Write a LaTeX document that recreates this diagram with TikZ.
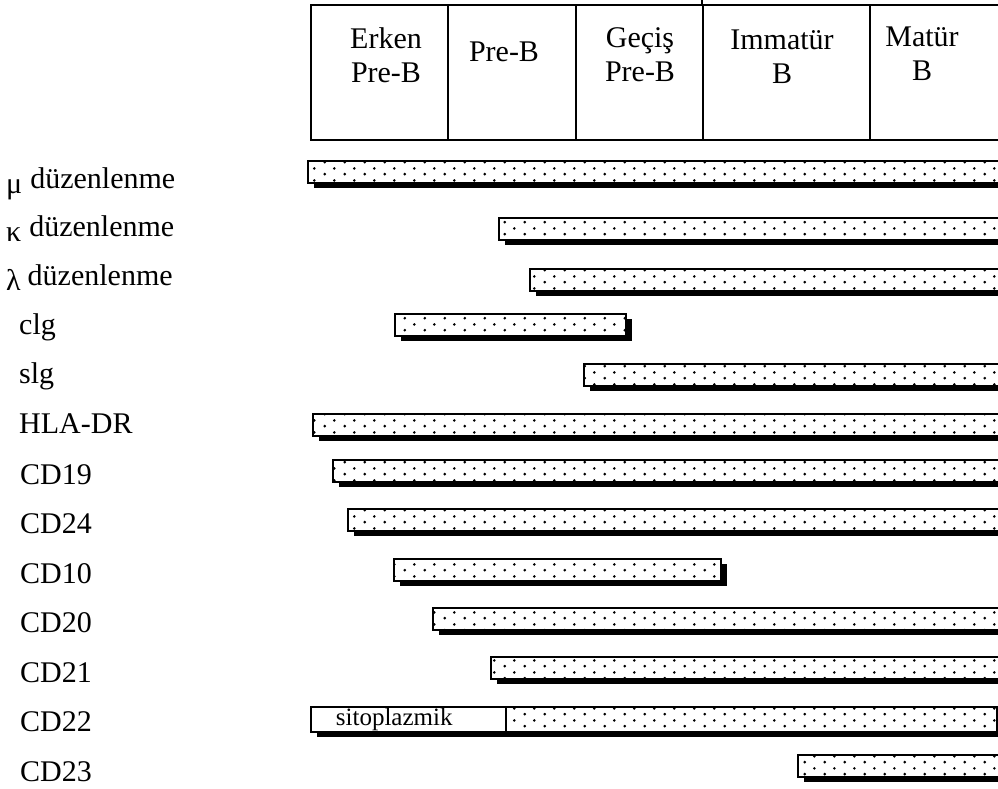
\documentclass[tikz,border=0pt]{standalone}
\usepackage{fontspec}
\setmainfont{Liberation Serif}
\usetikzlibrary{positioning, patterns, shadows}

\pgfdeclarepatternformonly{bar dots}{\pgfpointorigin}{\pgfpoint{20pt}{12pt}}{\pgfpoint{20pt}{12pt}}{%
  \pgfpathcircle{\pgfpoint{5pt}{3pt}}{1.5pt}%
  \pgfpathcircle{\pgfpoint{15pt}{9pt}}{1.5pt}%
  \pgfusepath{fill}}

\begin{document}
\begin{tikzpicture}
		[
		x=1pt, y=-1pt,
		font=\fontsize{30}{34}\selectfont,
		cell/.style ={rectangle, draw=black, line width=2pt, minimum height=135pt, inner sep=0pt},
		head/.style ={anchor=north, align=center, inner sep=0pt},
		lbl/.style ={anchor=base west, inner sep=0pt},
		plainbar/.style ={rectangle, draw=black, line width=1.8pt, fill=white, minimum height=22pt, inner sep=0pt, anchor=north west, drop shadow={shadow xshift=6pt, shadow yshift=-5pt, fill=black, opacity=1}},
		bar/.style ={plainbar, postaction={pattern=bar dots}}
		]
		\useasboundingbox (0,0) rectangle (998,789);
		\clip (0,0) rectangle (998,789);
		% stages
		\node[anchor=north west, minimum width=137pt] (c1) at (310,4) [cell] {};
		\node[right=-2pt of c1, minimum width=128pt] (c2) [cell] {};
		\node[right=-2pt of c2, minimum width=127pt] (c3) [cell] {};
		\node[right=-2pt of c3, minimum width=167pt] (c4) [cell] {};
		\node[right=-2pt of c4, minimum width=140pt] (c5) [cell] {};
		\draw[line width=2pt] (c4.north west) -- ++(0,-8);
		\node[head] (t1) at (386,27) {Erken\\Pre-B};
		\node[head] (t2) at (504,42) {Pre-B};
		\node[head] (t3) at (640,27) {Geçiş\\Pre-B};
		\node[head] (t4) at (782,30) {Immatür\\B};
		\node[head] (t5) at (922,27) {Matür\\B};
		% markers
		\node[lbl] (lmu) at (6,188) {\raisebox{-5pt}{μ}\hspace{8pt}düzenlenme};
		\node[lbl] (lkappa) at (6,236) {\raisebox{-5pt}{κ}\hspace{8pt}düzenlenme};
		\node[lbl] (llambda) at (6,285) {\raisebox{-5pt}{λ}\hspace{7pt}düzenlenme};
		\node[lbl] (lclg) at (19,334) {clg};
		\node[lbl] (lslg) at (19,383) {slg};
		\node[lbl] (lhla) at (19,433) {HLA-DR};
		\node[lbl] (lcd19) at (20,484) {CD19};
		\node[lbl] (lcd24) at (20,533) {CD24};
		\node[lbl] (lcd10) at (20,583) {CD10};
		\node[lbl] (lcd20) at (20,632) {CD20};
		\node[lbl] (lcd21) at (20,682) {CD21};
		\node[lbl] (lcd22) at (20,731) {CD22};
		\node[lbl] (lcd23) at (20,781) {CD23};
		% expression bars
		\node[bar, minimum width=703pt] (bmu) at (307,160) {};
		\node[bar, minimum width=512pt] (bkappa) at (498,217) {};
		\node[bar, minimum width=481pt] (blambda) at (529,268) {};
		\node[bar, minimum width=231pt] (bclg) at (394,313) {};
		\node[bar, minimum width=427pt] (bslg) at (583,363) {};
		\node[bar, minimum width=698pt] (bhla) at (312,413) {};
		\node[bar, minimum width=678pt] (bcd19) at (332,459) {};
		\node[bar, minimum width=663pt] (bcd24) at (347,508) {};
		\node[bar, minimum width=327pt] (bcd10) at (393,558) {};
		\node[bar, minimum width=578pt] (bcd20) at (432,607) {};
		\node[bar, minimum width=520pt] (bcd21) at (490,656) {};
		\node[plainbar, minimum height=25pt, font=\fontsize{25}{25}\selectfont, text width=145pt, inner xsep=25pt, align=left] (bcd22a) at (310,706) {sitoplazmik};
		\node[bar, minimum height=25pt, minimum width=491pt, right=-1.8pt of bcd22a] (bcd22b) {};
		\node[bar, minimum width=213pt] (bcd23) at (797,754) {};
	\end{tikzpicture}
\end{document}
